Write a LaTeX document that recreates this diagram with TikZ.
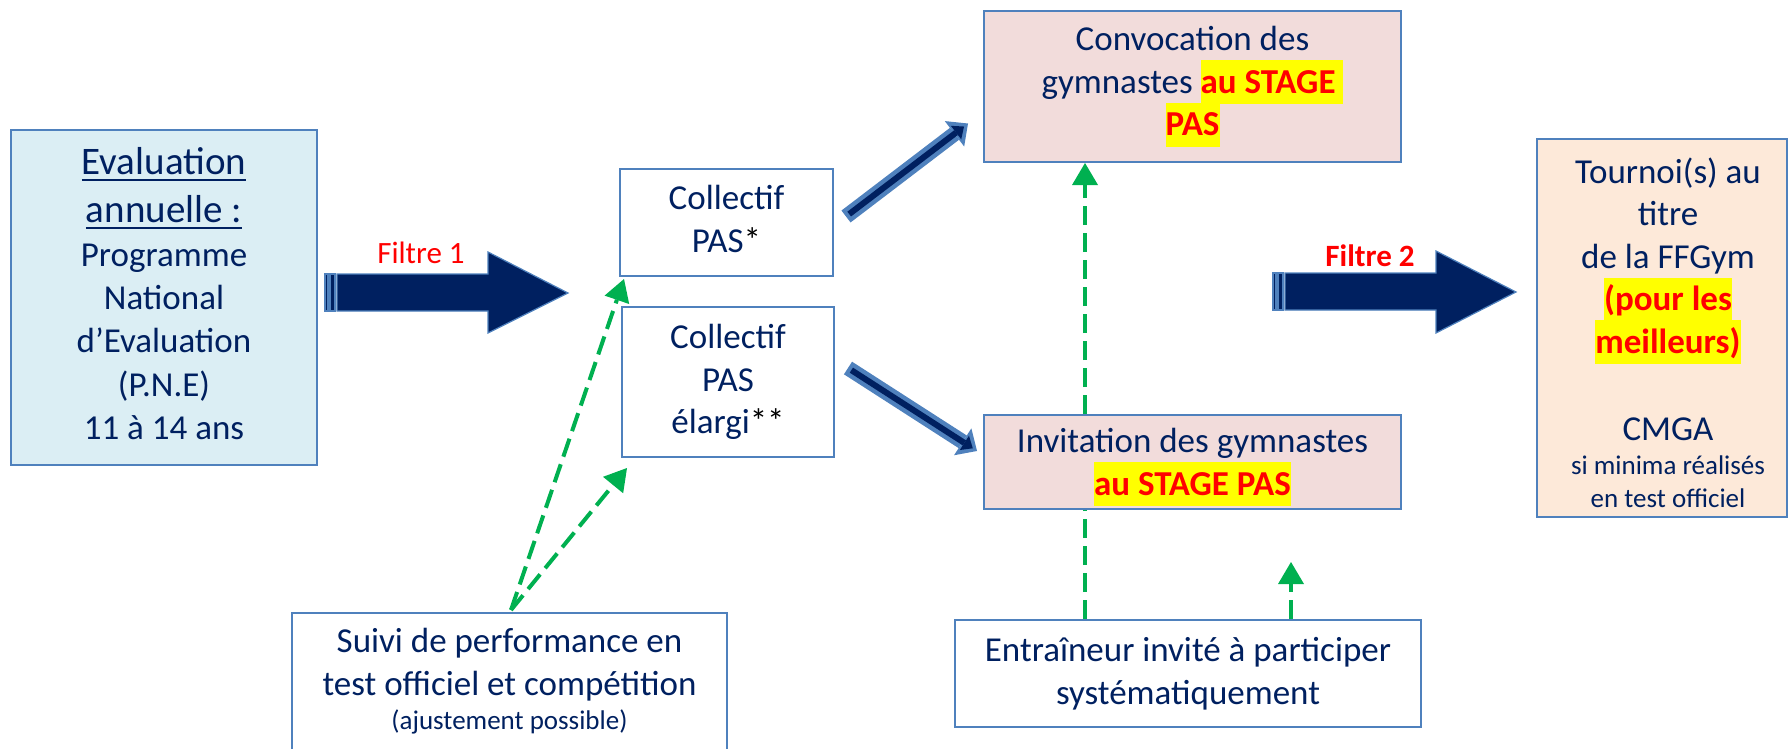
\documentclass[tikz,border=0pt]{standalone}
\usepackage{fontspec}
\setmainfont{Carlito}
\usetikzlibrary{arrows.meta,calc}
\definecolor{navy}{HTML}{002060}
\definecolor{boxblue}{HTML}{4F81BD}
\definecolor{lightblue}{HTML}{DBEEF4}
\definecolor{pinkfill}{HTML}{F2DCDB}
\definecolor{peach}{HTML}{FDE9D9}
\definecolor{hlyellow}{HTML}{FFFF00}
\definecolor{hlred}{HTML}{FF0000}
\definecolor{dgreen}{HTML}{00B050}
\newcommand{\myul}[1]{\setbox0\hbox{#1}\rlap{\rule[-7pt]{\wd0}{2.2pt}}\box0}
\newcommand{\hiL}[1]{\setbox0\hbox{{\bfseries\color{hlred}#1}}\rlap{{\color{hlyellow}\rule[-11pt]{\wd0}{44pt}}}\box0}
\newcommand{\fmain}{\fontsize{35}{42.5}\selectfont\lineskiplimit=-100pt\relax}
\newcommand{\fevalbox}{\fontsize{35}{43.3}\selectfont\lineskiplimit=-100pt\relax}
\newcommand{\fbig}{\fontsize{39}{48}\selectfont}
\newcommand{\fsmall}{\fontsize{27}{33}\selectfont}
\begin{document}
\begin{tikzpicture}[x=1pt,y=-1pt,
  box/.style={draw=boxblue, line width=2pt, rectangle, inner sep=0pt, align=center, text=navy, font=\fmain},
  txt/.style={align=center, text=navy, font=\fmain, inner sep=0pt},
  blockarrow/.style={fill=navy, draw=boxblue, line width=1.2pt, line join=miter},
  greendash/.style={draw=dgreen, line width=4pt, dash pattern=on 19pt off 8pt},
  greenarrow/.style={greendash, -{Triangle[length=22pt,width=26pt,line width=0pt]}},
  thickout/.style={draw=boxblue, line width=15pt, -{Triangle[length=17pt,width=32pt,line width=0pt]}},
  thickin/.style={draw=navy, line width=6pt, shorten >=5pt, shorten <=4pt, -{Triangle[length=10pt,width=17pt,line width=0pt]}},
  filtre/.style={text=hlred, font=\fontsize{31}{37}\selectfont, inner sep=0pt, anchor=base}
]
\useasboundingbox (0,0) rectangle (1788,749);

% boxes
\node[box, fill=lightblue, minimum width=306pt, minimum height=335pt, text depth=8.5pt, font=\fevalbox] (eval) at (164,297.5)
  {{\fbig\myul{Evaluation}}\\[4.7pt]{\fbig\myul{annuelle :}}\\[0.7pt]Programme\\National\\d’Evaluation\\(P.N.E)\\11 à 14 ans};
\node[box, minimum width=213pt, minimum height=107pt, text depth=7.5pt] (cpas) at (726.5,222.5)
  {Collectif\\PAS{\color{black}*}};
\node[box, minimum width=212pt, minimum height=150pt] (elargi) at (728,382)
  {Collectif\\PAS\\élargi{\color{black}**}};
\node[box, fill=pinkfill, minimum width=417pt, minimum height=151pt] (conv) at (1192.5,86.5)
  {Convocation des\\gymnastes \hiL{au STAGE }\\\hiL{PAS}};
\node[box, fill=pinkfill, minimum width=417pt, minimum height=94pt, text depth=0pt] (inv) at (1192.5,462)
  {Invitation des gymnastes\\\hiL{au STAGE PAS}};
\node[box, fill=peach, minimum width=250pt, minimum height=378pt] (tourn) at (1662,328) {};
\node[txt] (tournT) at (1668,333)
  {Tournoi(s) au\\titre\\de la FFGym\\\hiL{(pour les}\\\hiL{meilleurs)}\\[44.5pt]CMGA\\[-8pt]{\fsmall si minima réalisés}\\[-9.5pt]{\fsmall en test officiel}};
\node[box, minimum width=435pt, minimum height=150pt, anchor=north] (suivi) at (509.5,612) {};
\node[txt] (suiviT) at (509.5,681.5)
  {Suivi de performance en\\test officiel et compétition\\[-8pt]{\fsmall (ajustement possible)}};
\node[box, minimum width=466pt, minimum height=107pt] (entr) at (1188,673.5)
  {Entraîneur invité à participer\\systématiquement};

% Filtre 1 block arrow
\path[blockarrow] (325,274) rectangle (328,311);
\path[blockarrow] (330,274) rectangle (335,311);
\path[blockarrow] (337,274) -- (488,274) -- (488,252) -- (568,293) -- (488,333) -- (488,311) -- (337,311) -- cycle;
\node[filtre] (f1lab) at (421,263) {Filtre 1};

% Filtre 2 block arrow
\path[blockarrow] (1273,273) rectangle (1276,310);
\path[blockarrow] (1278,273) rectangle (1283,310);
\path[blockarrow] (1285,273) -- (1436,273) -- (1436,251) -- (1516,292) -- (1436,333) -- (1436,310) -- (1285,310) -- cycle;
\node[filtre, font=\fontsize{31}{37}\selectfont\bfseries] (f2lab) at (1370,266) {Filtre 2};

% thick arrows
\coordinate (u1) at ($(cpas.east)+(12,-6)$);
\coordinate (u2) at ($(conv.west)+(-15,37)$);
\draw[thickout] (u1) -- (u2);
\draw[thickin] (u1) -- (u2);
\coordinate (d1) at ($(elargi.east)+(13,-14)$);
\coordinate (d2) at ($(inv.west)+(-6,-11)$);
\draw[thickout] (d1) -- (d2);
\draw[thickin] (d1) -- (d2);

% green dashed arrows
\draw[greenarrow] ($(suivi.north)+(1.5,-2)$) -- ($(cpas.south west)+(5,2)$);
\draw[greenarrow] ($(suivi.north)+(1.5,-2)$) -- ($(elargi.south west)+(6,10)$);
\coordinate (vx) at (1085,0);
\draw[greendash] (entr.north -| vx) -- (inv.south -| vx);
\draw[greenarrow] (inv.north -| vx) -- (conv.south -| vx);
\coordinate (ex) at (1291,0);
\coordinate (e2tip) at (1291,562);
\draw[greenarrow] (entr.north -| ex) -- (e2tip);
\end{tikzpicture}
\end{document}
